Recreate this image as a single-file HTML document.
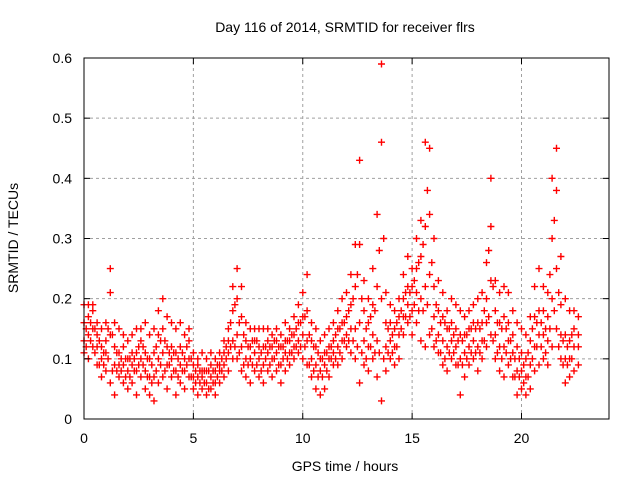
<!DOCTYPE html>
<html><head><meta charset="utf-8"><style>
body{margin:0;background:#fff;}
svg{display:block;font-family:"Liberation Sans",sans-serif;}
</style></head><body>
<svg id="chart" width="640" height="480" viewBox="0 0 640 480">
<rect width="640" height="480" fill="#fff"/>
<text x="345" y="32" font-size="14" text-anchor="middle" fill="#000">Day 116 of 2014, SRMTID for receiver flrs</text>
<g id="grid"></g>
<g id="marks"></g>
<rect x="84" y="58" width="525" height="361" fill="none" stroke="#000" stroke-width="1"/>
<g id="axes"></g>
<text x="345" y="471" font-size="14" text-anchor="middle">GPS time / hours</text>
<text x="18" y="238" font-size="14" text-anchor="middle" transform="rotate(-90 18 238)">SRMTID / TECUs</text>
</svg>
<script>
const xTicks=[0,5,10,15,20];
const yTicks=[0,0.1,0.2,0.3,0.4,0.5,0.6];
const yTickLabels=["0","0.1","0.2","0.3","0.4","0.5","0.6"];
const tStart=0, tStep=0.2, tHalf=0.1;
const lo=[.11,.10,.12,.09,.07,.08,.06,.04,.07,.06,.05,.06,.04,.07,.05,.04,.03,.06,.07,.05,.07,.04,.06,.05,.07,.05,.04,.05,.04,.05,.04,.06,.07,.08,.10,.10,.08,.07,.06,.08,.07,.06,.08,.07,.08,.06,.08,.09,.10,.11,.10,.09,.07,.05,.04,.05,.07,.09,.09,.10,.12,.11,.10,.06,.09,.08,.10,.07,.03,.08,.10,.09,.10,.14,.16,.14,.16,.13,.12,.14,.12,.11,.09,.08,.10,.09,.04,.07,.09,.10,.08,.10,.12,.14,.10,.08,.07,.09,.07,.04,.05,.04,.05,.08,.09,.10,.09,.12,.15,.10,.06,.07,.08,.09];
const mlo=[.13,.14,.15,.12,.10,.11,.14,.09,.09,.09,.08,.09,.08,.10,.08,.07,.07,.10,.11,.09,.10,.08,.09,.08,.10,.07,.07,.07,.06,.07,.06,.08,.09,.11,.13,.14,.12,.10,.10,.11,.10,.09,.11,.10,.11,.09,.11,.11,.12,.13,.14,.13,.10,.09,.08,.09,.10,.11,.12,.13,.14,.15,.15,.16,.13,.12,.14,.13,.20,.12,.13,.12,.14,.17,.19,.18,.21,.20,.22,.24,.17,.14,.13,.12,.13,.12,.10,.11,.12,.13,.12,.13,.16,.23,.14,.12,.12,.13,.11,.08,.08,.07,.09,.12,.14,.14,.13,.20,.25,.14,.10,.10,.12,.12];
const mhi=[.16,.17,.18,.14,.12,.13,.21,.12,.11,.12,.10,.11,.11,.13,.11,.10,.11,.14,.15,.12,.12,.11,.12,.10,.13,.09,.09,.08,.08,.09,.08,.09,.11,.13,.18,.20,.17,.13,.12,.13,.12,.12,.13,.12,.13,.12,.13,.13,.14,.16,.17,.18,.13,.12,.10,.11,.12,.13,.15,.16,.17,.19,.22,.29,.18,.16,.19,.22,.46,.16,.16,.15,.17,.20,.22,.22,.25,.27,.32,.34,.22,.18,.17,.15,.16,.15,.14,.14,.15,.16,.16,.16,.20,.32,.18,.16,.17,.16,.14,.12,.11,.10,.13,.17,.18,.18,.17,.30,.38,.19,.14,.13,.15,.14];
const hi=[.19,.19,.19,.16,.15,.16,.25,.16,.15,.14,.13,.14,.15,.15,.16,.14,.15,.18,.20,.17,.16,.15,.16,.14,.15,.11,.10,.11,.10,.11,.10,.11,.13,.15,.22,.25,.22,.16,.15,.15,.15,.15,.15,.14,.15,.14,.16,.15,.17,.19,.21,.24,.16,.15,.13,.14,.15,.16,.18,.20,.21,.24,.29,.43,.23,.20,.25,.34,.59,.21,.19,.18,.20,.24,.27,.25,.30,.33,.46,.45,.30,.23,.21,.18,.20,.19,.18,.17,.18,.19,.20,.21,.26,.40,.23,.21,.22,.21,.18,.16,.15,.14,.17,.22,.25,.22,.21,.40,.45,.27,.20,.18,.18,.17];
const halfA=[.12,.13,.11,.09,.09,.10,.08,.08,.08,.07,.07,.08,.09,.09,.07,.06,.08,.09,.08,.09,.08,.07,.08,.09,.07,.06,.06,.06,.05,.06,.07,.08,.10,.12,.12,.11,.09,.09,.09,.09,.08,.10,.09,.10,.09,.10,.10,.11,.12,.12,.12,.09,.08,.07,.07,.08,.10,.10,.11,.13,.13,.13,.12,.11,.10,.12,.11,.11,.10,.11,.11,.12,.15,.17,.17,.19,.18,.18,.19,.15,.13,.11,.10,.11,.11,.09,.09,.10,.11,.11,.11,.13,.17,.13,.11,.10,.11,.10,.07,.07,.06,.07,.10,.12,.12,.11,.15,.18,.12,.09,.09,.10];
const halfB=[.15,.16,.15,.13,.11,.15,.14,.11,.10,.10,.10,.10,.12,.12,.10,.09,.12,.13,.13,.11,.11,.10,.11,.12,.10,.08,.08,.08,.08,.08,.09,.10,.12,.16,.19,.16,.14,.12,.13,.13,.11,.12,.12,.13,.12,.12,.13,.14,.15,.16,.17,.14,.12,.11,.10,.11,.12,.14,.15,.16,.18,.20,.24,.20,.15,.17,.18,.28,.30,.15,.14,.16,.18,.21,.21,.23,.26,.29,.38,.26,.19,.16,.16,.15,.14,.13,.13,.14,.15,.15,.15,.18,.28,.22,.16,.15,.15,.13,.10,.10,.09,.11,.15,.16,.16,.15,.24,.33,.21,.13,.12,.14];

const X0=84,X1=609,Y0=419,Y1=58;
const xScale=v=>X0+(v-0)/(24-0)*(X1-X0);
const yScale=v=>Y0-(v-0)/(0.6-0)*(Y0-Y1);
const NS="http://www.w3.org/2000/svg";
const grid=document.getElementById('grid'),axes=document.getElementById('axes'),marks=document.getElementById('marks');
function mk(tag,attrs,parent){const e=document.createElementNS(NS,tag);for(const k in attrs)e.setAttribute(k,attrs[k]);parent.appendChild(e);return e;}
xTicks.forEach(v=>{
  const x=xScale(v);
  if(v>0){const g=mk('line',{x1:x,x2:x,y1:Y0,y2:Y1,stroke:'#a0a0a0','stroke-dasharray':'3,3','stroke-width':1},grid);
  
  }
  const t1=mk('line',{x1:x,x2:x,y1:Y0,y2:Y0-6,stroke:'#000'},axes);
  
  
  const t2=mk('line',{x1:x,x2:x,y1:Y1,y2:Y1+6,stroke:'#000'},axes);
  
  
  const l=mk('text',{x:x,y:443,'font-size':14,'text-anchor':'middle'},axes);l.textContent=String(v);
  
  
});
yTicks.forEach((v,i)=>{
  const y=yScale(v);
  if(v>0&&v<0.6){const g=mk('line',{x1:X0,x2:X1,y1:y,y2:y,stroke:'#a0a0a0','stroke-dasharray':'3,3','stroke-width':1},grid);
  
  }
  const t1=mk('line',{x1:X0,x2:X0+6,y1:y,y2:y,stroke:'#000'},axes);
  
  
  const t2=mk('line',{x1:X1,x2:X1-6,y1:y,y2:y,stroke:'#000'},axes);
  
  
  const l=mk('text',{x:72,y:y+5,'font-size':14,'text-anchor':'end'},axes);l.textContent=yTickLabels[i];
  
  
});
let d='';
function addCross(t,v){
  const x=xScale(t),y=yScale(v);
  d+=`M${(x-3.5).toFixed(1)} ${y.toFixed(1)}h7M${x.toFixed(1)} ${(y-3.5).toFixed(1)}v7`;
}
[lo,mlo,mhi,hi].forEach(arr=>arr.forEach((v,i)=>addCross(tStart+i*tStep,v)));
[halfA,halfB].forEach(arr=>arr.forEach((v,i)=>addCross(tHalf+i*tStep,v)));
const p=mk('path',{d:d,stroke:'#ff0000','stroke-width':1.4,fill:'none'},marks);


</script>
</body></html>
